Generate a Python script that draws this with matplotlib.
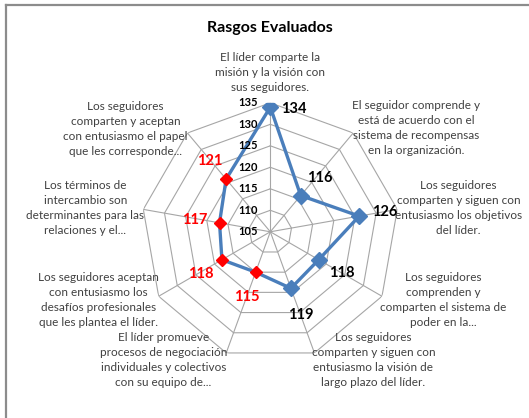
import numpy as np
import matplotlib
matplotlib.use("Agg")
import matplotlib.pyplot as plt
from matplotlib.lines import Line2D

# Radar data
categories = [
    "El líder comparte la\nmisión y la visión con\nsus seguidores.",
    "El seguidor comprende y\nestá de acuerdo con el\nsistema de recompensas\nen la organización.",
    "Los seguidores\ncomparten y siguen con\nentusiasmo los objetivos\ndel líder.",
    "Los seguidores\ncomprenden y\ncomparten el sistema de\npoder en la...",
    "Los seguidores\ncomparten y siguen con\nentusiasmo la visión de\nlargo plazo del líder.",
    "El líder promueve\nprocesos de negociación\nindividuales y colectivos\ncon su equipo de...",
    "Los seguidores aceptan\ncon entusiasmo los\ndesafíos profesionales\nque les plantea el líder.",
    "Los términos de\nintercambio son\ndeterminantes para las\nrelaciones y el...",
    "Los seguidores\ncomparten y aceptan\ncon entusiasmo el papel\nque les corresponde...",
]
values = [134, 116, 126, 118, 119, 115, 118, 117, 121]
highlighted = [False, False, False, False, False, True, True, True, True]
ticks = [105, 110, 115, 120, 125, 130, 135]

# label placement (offset pixels from the outer vertex / from the marker)
cat_offsets = [(0, 30), (63, 5), (61, 1), (61, -4), (59, -7),
               (-63, -7), (-60, -4), (-58, 1), (-62, 4)]
val_offsets = [(23, -2), (19, 18), (25, 4), (23, -13), (10, -27),
               (-9, -25), (-21, -14), (-25, 3), (-16, 18)]

blue = "#4a7ebb"
red = "#ff0000"
grid_c = "#a6a6a6"
text_c = "#404040"
rmin, rmax = ticks[0], ticks[-1]

fig = plt.figure(figsize=(5.29, 4.18), dpi=100)
ax = fig.add_axes([0.267, 0.137, 0.488, 0.617], projection="polar")
ax.set_theta_zero_location("N")
ax.set_theta_direction(-1)
ax.set_ylim(rmin, rmax)
ax.grid(False)
ax.set_xticks([])
ax.set_yticks([])
ax.spines["polar"].set_visible(False)
ax.patch.set_alpha(0)

n = len(categories)
angles = np.linspace(0, 2 * np.pi, n, endpoint=False)
closed = np.append(angles, angles[0])

# polygon gridlines and spokes
for t in ticks[1:]:
    ax.plot(closed, [t] * (n + 1), color=grid_c, lw=0.8, zorder=1)
for a in angles:
    ax.plot([a, a], [rmin, rmax], color=grid_c, lw=0.8, zorder=1)

# axis labels along the top spoke
for t in ticks:
    ax.annotate(str(t), xy=(0, t), xytext=(-12, 0), textcoords="offset pixels",
                ha="right", va="center", fontsize=8, fontweight="bold",
                family="Lato", color="black", zorder=5)

# series line and markers
ax.plot(closed, values + values[:1], color=blue, lw=2.4, zorder=3)
for a, v, h in zip(angles, values, highlighted):
    if h:
        ax.plot(a, v, marker="D", ms=6.5, color=red, mec=red, zorder=4)
    else:
        ax.plot(a, v, marker="D", ms=8, color=blue, mec=blue, zorder=4)

for a, v, h, off in zip(angles, values, highlighted, val_offsets):
    ax.annotate(str(v), xy=(a, v), xytext=off, textcoords="offset pixels",
                ha="center", va="center", fontsize=10.5, fontweight="bold",
                family="Lato", color=red if h else "black", zorder=5)

for a, lab, off in zip(angles, categories, cat_offsets):
    ax.annotate(lab, xy=(a, rmax), xytext=off, textcoords="offset pixels",
                ha="center", va="center", fontsize=8.5, family="Lato",
                color=text_c, linespacing=1.45, zorder=5)

fig.text(0.51, 0.933, "Rasgos Evaluados", ha="center", va="center",
         fontsize=11.5, fontweight="bold", family="Lato", color="black")

# chart frame
fig.add_artist(Line2D([0.011, 0.011], [0, 0.988], color="#8c8c8c", lw=1.6,
                      transform=fig.transFigure))
fig.add_artist(Line2D([0.011, 1], [0.988, 0.988], color="#8c8c8c", lw=1.6,
                      transform=fig.transFigure))

fig.savefig("out.png", dpi=100)
